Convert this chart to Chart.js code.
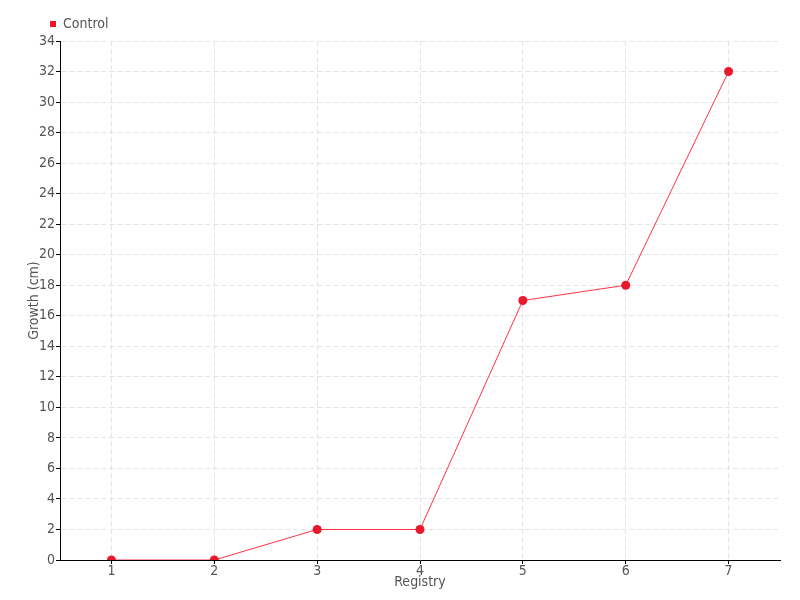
<!DOCTYPE html>
<html>
<head>
<meta charset="utf-8">
<script src="https://cdn.jsdelivr.net/npm/chart.js@4/dist/chart.umd.min.js"></script>
<style>
html,body{margin:0;padding:0;background:#fff;}
#wrap{width:800px;height:600px;position:relative;}
</style>
</head>
<body>
<div id="wrap"><canvas id="c" width="800" height="600"></canvas></div>
<script>
const categories = ["1","2","3","4","5","6","7"];
const controlValues = [0, 0, 2, 2, 17, 18, 32];
const seriesName = "Control";
const xTitle = "Registry";
const yTitle = "Growth (cm)";

const FONT = "'DejaVu Sans Condensed','Liberation Sans Narrow','Roboto',sans-serif";
const textColor = "#555555";

const legendShift = {
  id: 'legendShift',
  afterLayout(chart) {
    if (chart.legend) {
      chart.legend.left += 16;
      chart.legend.right += 16;
    }
  }
};

new Chart(document.getElementById('c'), {
  type: 'line',
  data: {
    labels: categories,
    datasets: [{
      label: seriesName,
      data: controlValues,
      borderColor: '#ff3344',
      backgroundColor: '#e8192c',
      borderWidth: 1,
      pointRadius: 4.5,
      pointBackgroundColor: '#e8192c',
      pointBorderColor: '#e8192c',
      pointBorderWidth: 0,
      tension: 0,
      fill: false
    }]
  },
  plugins: [legendShift],
  options: {
    responsive: false,
    animation: false,
    layout: { padding: { left: 26, right: 20, top: 9, bottom: 0 } },
    plugins: {
      legend: {
        position: 'top',
        align: 'start',
        labels: {
          usePointStyle: true,
          pointStyle: 'rect',
          boxWidth: 6,
          boxHeight: 6,
          padding: 8,
          color: textColor,
          font: { family: FONT, size: 14 }
        }
      },
      tooltip: { enabled: false }
    },
    scales: {
      x: {
        offset: true,
        afterFit: s => { s.height = 40; },
        border: { display: true, color: '#000', width: 1, dash: [5, 3] },
        grid: {
          display: true,
          offset: false,
          color: '#e4e4e4',
          drawTicks: true,
          tickLength: 4,
          tickColor: '#000',
          tickBorderDash: []
        },
        ticks: { color: textColor, padding: -1, font: { family: FONT, size: 14 } },
        title: { display: true, text: xTitle, color: textColor, padding: { top: 0, bottom: 9 }, font: { family: FONT, size: 14 } }
      },
      y: {
        min: 0,
        max: 34,
        afterFit: s => { s.width = 34; },
        border: { display: true, color: '#000', width: 1, dash: [5, 3] },
        grid: {
          display: true,
          color: '#e4e4e4',
          drawTicks: true,
          tickLength: 4,
          tickColor: '#000',
          tickBorderDash: []
        },
        ticks: { stepSize: 2, color: textColor, padding: 1, font: { family: FONT, size: 14 } },
        title: { display: true, text: yTitle, color: textColor, padding: 0, font: { family: FONT, size: 14 } }
      }
    }
  }
});
</script>
</body>
</html>
